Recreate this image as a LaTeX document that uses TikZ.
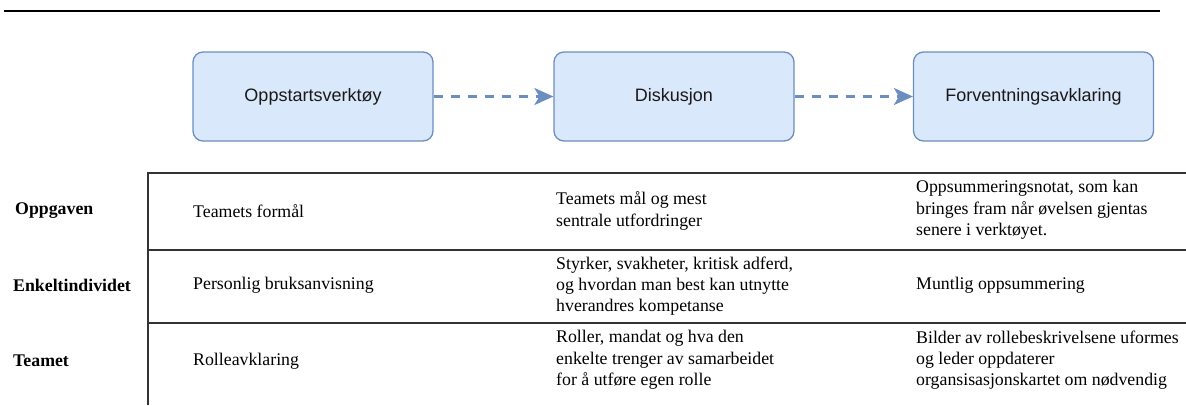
\documentclass[tikz,border=0pt]{standalone}
\usepackage{fontspec}
\setmainfont{Liberation Serif}
\newfontfamily\boxfont{Liberation Sans}
\usetikzlibrary{arrows.meta}

\definecolor{stepfill}{HTML}{DAE8FC}
\definecolor{stepline}{HTML}{6C8EBF}
\definecolor{gridline}{HTML}{333333}

\tikzset{
  stepbox/.style={draw=stepline, fill=stepfill, line width=1.3pt, rounded corners=10pt,
    minimum width=240pt, minimum height=89pt, text=black!90,
    font=\boxfont\fontsize{18}{21}\selectfont},
  flow/.style={stepline, line width=2.4pt, dash pattern=on 9pt off 8pt,
    -{Stealth[length=19pt,width=17pt,inset=5pt]}},
  cell/.style={anchor=west, align=left, inner sep=0pt, font=\fontsize{17.8}{21.3}\selectfont},
  rowhead/.style={cell, font=\bfseries\fontsize{17.8}{21.3}\selectfont},
}

\begin{document}
\begin{tikzpicture}[x=1pt,y=-1pt]
\def\tableleft{148}
\def\tableright{1186}
\def\colA{193}
\def\colB{556}
\def\colC{916}

\useasboundingbox (0,0) rectangle (1186,405);

\draw[line width=2.3pt] (4,11) -- (1160,11);

% the three steps
\node[stepbox] (start) at (313,96.5) {Oppstartsverktøy};
\node[stepbox] (discuss) at (674,96.5) {Diskusjon};
\node[stepbox] (expect) at (1033.5,96.5) {Forventningsavklaring};

\draw[flow] (start) -- (discuss);
\draw[flow] (discuss) -- (expect);

% table
\draw[gridline, line width=1.4pt] (\tableleft,405) -- (\tableleft,173) -- (\tableright,173);
\draw[gridline, line width=1.4pt] (\tableleft,250) -- (\tableright,250);
\draw[gridline, line width=1.4pt] (\tableleft,323) -- (\tableright,323);

\node[rowhead] (taskhead) at (15,211) {Oppgaven};
\node[rowhead] (personhead) at (13,285) {Enkeltindividet};
\node[rowhead] (teamhead) at (13,361) {Teamet};

\node[cell] (taskA) at (\colA,211) {Teamets formål};
\node[cell] (personA) at (\colA,285) {Personlig bruksanvisning};
\node[cell] (teamA) at (\colA,361) {Rolleavklaring};

\node[cell] (taskB) at (\colB,211) {Teamets mål og mest\\sentrale utfordringer};
\node[cell] (personB) at (\colB,286) {Styrker, svakheter, kritisk adferd,\\og hvordan man best kan utnytte\\hverandres kompetanse};
\node[cell] (teamB) at (\colB,360) {Roller, mandat og hva den\\enkelte trenger av samarbeidet\\for å utføre egen rolle};

\node[cell] (taskC) at (\colC,210) {Oppsummeringsnotat, som kan\\bringes fram når øvelsen gjentas\\senere i verktøyet.};
\node[cell] (personC) at (\colC,285) {Muntlig oppsummering};
\node[cell] (teamC) at (\colC,360) {Bilder av rollebeskrivelsene uformes\\og leder oppdaterer\\organsisasjonskartet om nødvendig};
\end{tikzpicture}
\end{document}
